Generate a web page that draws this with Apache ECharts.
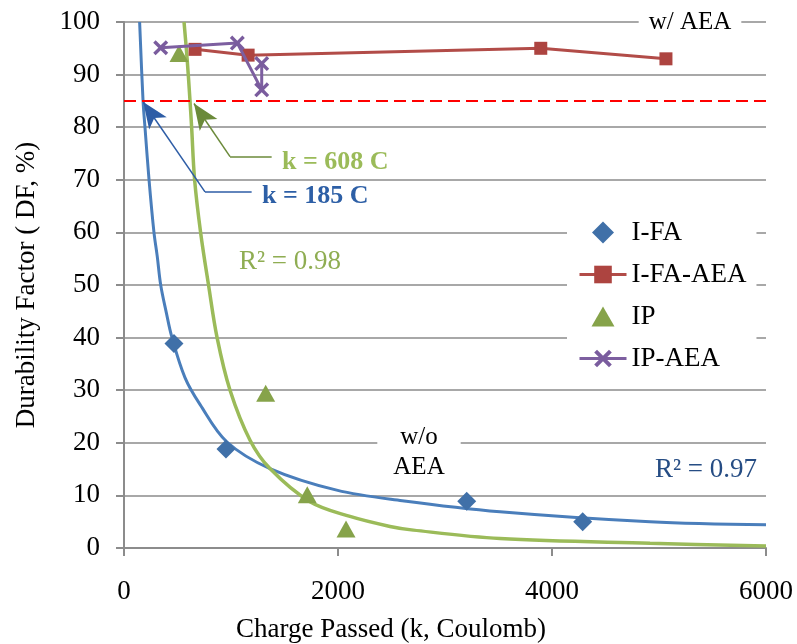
<!DOCTYPE html>
<html>
<head>
<meta charset="utf-8">
<script src="https://cdn.jsdelivr.net/npm/echarts@6/dist/echarts.min.js"></script>
<style>html,body{margin:0;padding:0;background:#fff}#c{width:797px;height:644px}</style>
</head>
<body>
<div id="c"></div>
<script>
// ---- data ----
const seriesNames = ['I-FA', 'I-FA-AEA', 'IP', 'IP-AEA'];
const ifa    = [[467, 38.9], [953, 18.8], [3203, 8.9], [4287, 5.0]];
const ifaAea = [[664, 94.8], [1160, 93.7], [3895, 95.0], [5065, 93.0]];
const ip     = [[514, 94.0], [1324, 29.4], [1713, 10.1], [2075, 3.6]];
const ipAea  = [[343, 95.1], [1059, 96.0], [1287, 87.1], [1287, 92.1]];
// fitted trend lines as drawn in the picture
const ifaTrend = [[146, 100], [178, 85], [196, 80], [234, 70], [280, 60], [311, 55.4], [343, 50], [396, 44.7],
  [446, 40.2], [570, 32.4], [710, 27.3], [960, 20.2], [1364, 15.1], [1988, 11.0], [2600, 9.0], [3514, 6.9],
  [4916, 5.0], [6000, 4.4]];
const ipTrend = [[561, 100], [590, 93], [617, 85], [632, 80], [660, 70], [716, 60], [790, 50], [870, 40],
  [991, 30], [1178, 20.5], [1364, 15.1], [1738, 8.8], [2112, 6.0], [2486, 4.1], [2704, 3.4], [3514, 1.8],
  [4916, 0.9], [6000, 0.4]];
const dfLimit = 85;
// annotation arrows: label corner -> arrow tip (data units)
const ifaArrow = [[1193, 67.7], [757, 67.7], [180, 84.8]];
const ipArrow  = [[1380, 74.4], [991, 74.4], [654, 84.5]];
const xRange = [0, 6000, 2000];
const yRange = [0, 100, 10];

const FONT = '"Liberation Serif", "Times New Roman", serif';
const X_SYMBOL = 'path://M0,1.6L1.6,0L5,3.4L8.4,0L10,1.6L6.6,5L10,8.4L8.4,10L5,6.6L1.6,10L0,8.4L3.4,5Z';
// legend-only icons padded to the legend box so the marker keeps its shape
const LEG_DIAMOND = 'path://M0,11L0,11M47,11L47,11M23.5,0L34.5,11L23.5,22L12.5,11Z';
const LEG_TRIANGLE = 'path://M0,11L0,11M47,11L47,11M23.5,1L35,21L12,21Z';

function arrowLines(pts, color) {
  return {
    silent: true,
    animation: false,
    symbol: 'none',
    label: { show: false },
    lineStyle: { color: color, width: 1.5, type: 'solid' },
    emphasis: { disabled: true },
    data: [
      [{ coord: pts[0], symbol: 'none' }, { coord: pts[1], symbol: 'none' }],
      [{ coord: pts[1], symbol: 'none' }, { coord: pts[2], symbol: 'arrow', symbolSize: [16, 26] }]
    ]
  };
}

const chart = echarts.init(document.getElementById('c'), null, { renderer: 'canvas' });
chart.setOption({
  animation: false,
  backgroundColor: '#fff',
  textStyle: { fontFamily: FONT },
  grid: { left: 124, right: 31, top: 22, bottom: 96, containLabel: false, outerBoundsMode: 'none' },
  xAxis: {
    type: 'value', min: xRange[0], max: xRange[1], interval: xRange[2],
    axisLine: { show: true, lineStyle: { color: '#8C8C8C', width: 2 } },
    axisTick: { show: true, length: 8, lineStyle: { color: '#8C8C8C', width: 2 } },
    splitLine: { show: false },
    axisLabel: { color: '#000', fontFamily: FONT, fontSize: 27, margin: 30, formatter: v => String(v) },
    name: 'Charge Passed (k, Coulomb)', nameLocation: 'middle', nameGap: 68,
    nameTextStyle: { color: '#000', fontFamily: FONT, fontSize: 27, padding: [0, 108, 0, 0] }
  },
  yAxis: {
    type: 'value', min: yRange[0], max: yRange[1], interval: yRange[2],
    axisLine: { show: true, lineStyle: { color: '#8C8C8C', width: 2 } },
    axisTick: { show: true, length: 8, lineStyle: { color: '#8C8C8C', width: 2 } },
    splitLine: { show: true, lineStyle: { color: '#A8A8A8', width: 2 } },
    axisLabel: { color: '#000', fontFamily: FONT, fontSize: 27, margin: 24 },
    name: 'Durability Factor ( DF, %)', nameLocation: 'middle', nameGap: 84, nameRotate: 90,
    nameTextStyle: { color: '#000', fontFamily: FONT, fontSize: 27 }
  },
  legend: {
    data: [
      { name: seriesNames[0], icon: LEG_DIAMOND },
      { name: seriesNames[1] },
      { name: seriesNames[2], icon: LEG_TRIANGLE },
      { name: seriesNames[3] }
    ],
    orient: 'vertical', left: 567, top: 212,
    padding: [7, 10, 7, 11],
    itemGap: 15, itemWidth: 47, itemHeight: 22,
    lineStyle: { width: 3 },
    backgroundColor: '#fff',
    selectedMode: false,
    textStyle: { color: '#000', fontFamily: FONT, fontSize: 27 }
  },
  series: [
    {
      name: 'trend-ifa', type: 'line', data: ifaTrend, smooth: 0.35,
      symbol: 'none', silent: true, z: 2,
      lineStyle: { color: '#4A7EBB', width: 3 },
      markLine: arrowLines(ifaArrow, '#2E5DA6')
    },
    {
      name: 'trend-ip', type: 'line', data: ipTrend, smooth: 0.35,
      symbol: 'none', silent: true, z: 3,
      lineStyle: { color: '#9BBB59', width: 3.5 },
      markLine: arrowLines(ipArrow, '#6B8A3A')
    },
    {
      name: seriesNames[0], type: 'scatter', data: ifa, symbol: 'diamond', symbolSize: 19, z: 5,
      itemStyle: { color: '#4070A8', opacity: 1 }
    },
    {
      name: seriesNames[1], type: 'line', data: ifaAea, symbol: 'rect', symbolSize: 13, z: 5,
      showAllSymbol: true,
      itemStyle: { color: '#AD4440' }, lineStyle: { color: '#B24C48', width: 3 },
      markLine: {
        silent: true, symbol: 'none', label: { show: false }, animation: false,
        lineStyle: { color: '#FF0000', width: 2, type: [12, 6] },
        data: [{ yAxis: dfLimit }]
      }
    },
    {
      name: seriesNames[2], type: 'scatter', data: ip, symbol: 'triangle', symbolSize: [19, 17], z: 5,
      itemStyle: { color: '#86A34A', opacity: 1 }
    },
    {
      name: seriesNames[3], type: 'line', data: ipAea, symbol: X_SYMBOL, symbolSize: 15, z: 6,
      showAllSymbol: true,
      itemStyle: { color: '#7A5C9E' }, lineStyle: { color: '#7D5FA0', width: 3 }
    }
  ],
  graphic: [
    { type: 'text', x: 282, y: 162, z: 10,
      style: { text: 'k = 608 C', font: 'bold 26px ' + FONT, fill: '#9BBB59', align: 'left', verticalAlign: 'middle' } },
    { type: 'text', x: 262, y: 196, z: 10,
      style: { text: 'k = 185 C', font: 'bold 26px ' + FONT, fill: '#2D5FA6', align: 'left', verticalAlign: 'middle' } },
    { type: 'text', x: 239, y: 262, z: 10,
      style: { text: 'R² = 0.98', font: '27px ' + FONT, fill: '#8FAD52', align: 'left', verticalAlign: 'middle' } },
    { type: 'text', x: 757, y: 470, z: 10,
      style: { text: 'R² = 0.97', font: '27px ' + FONT, fill: '#264D84', align: 'right', verticalAlign: 'middle' } },
    { type: 'text', x: 690, y: 22, z: 10,
      style: { text: 'w/ AEA', font: '25px ' + FONT, fill: '#000', align: 'center', verticalAlign: 'middle',
        backgroundColor: '#fff', padding: [2, 10] } },
    { type: 'text', x: 419, y: 452, z: 10,
      style: { text: 'w/o\nAEA', font: '25px ' + FONT, fill: '#000', align: 'center', verticalAlign: 'middle',
        lineHeight: 30, backgroundColor: '#fff', padding: [2, 16] } }
  ]
});
</script>
</body>
</html>
